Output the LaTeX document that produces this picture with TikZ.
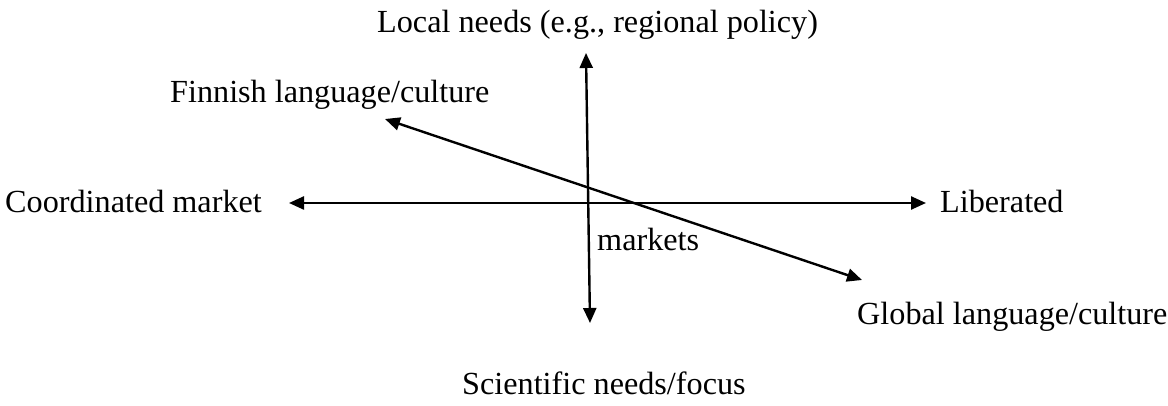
\documentclass[tikz,border=0pt]{standalone}
\usepackage{fontspec}
\setmainfont{Liberation Serif}
\usetikzlibrary{arrows.meta}
\begin{document}
\begin{tikzpicture}[x=1pt,y=-1pt,
  lbl/.style={anchor=base west,inner sep=0pt,font=\fontsize{32.2}{38}\selectfont},
  axis/.style={line width=2.4pt,{Triangle[length=15pt,width=13pt]}-{Triangle[length=15pt,width=13pt]}}]
\useasboundingbox (0,0) rectangle (1168,406);
\node[lbl] (local) at (377,33) {Local needs (e.g., regional policy)};
\node[lbl] (finn) at (170,103) {Finnish language/culture};
\node[lbl] (coord) at (5,213) {Coordinated market};
\node[lbl] (lib) at (940,213) {Liberated};
\node[lbl] (mkts) at (597,251) {markets};
\node[lbl] (glob) at (857,324) {Global language/culture};
\node[lbl] (sci) at (462,394) {Scientific needs/focus};
\coordinate (vt) at (586,53);
\coordinate (vb) at (590,323);
\coordinate (hl) at (289,203);
\coordinate (hr) at (926,203);
\coordinate (dt) at (385,119);
\coordinate (db) at (862,280);
\draw[axis] (vt) -- (vb);
\draw[axis] (hl) -- (hr);
\draw[axis] (dt) -- (db);
\end{tikzpicture}
\end{document}
